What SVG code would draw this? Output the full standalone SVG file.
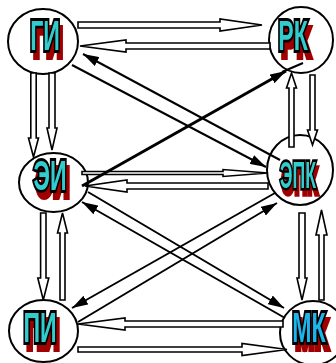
<svg xmlns="http://www.w3.org/2000/svg" width="336" height="363" viewBox="0 0 336 363">
  <defs>
    <marker id="head" viewBox="0 0 16 10" refX="16" refY="5" markerWidth="16" markerHeight="10" markerUnits="userSpaceOnUse" orient="auto">
      <path d="M0,0 L16,5 L0,10 Z" fill="#000"/>
    </marker>
    <!-- dark red block shadow cast down and to the right of each label -->
    <filter id="redShadow" x="-30%" y="-30%" width="170%" height="170%">
      <feOffset in="SourceAlpha" dx="5" dy="7" result="off"/>
      <feFlood flood-color="#a00000"/>
      <feComposite in2="off" operator="in" result="shadow"/>
      <feMerge>
        <feMergeNode in="shadow"/>
        <feMergeNode in="SourceGraphic"/>
      </feMerge>
    </filter>
  </defs>
  <style>
    .node { fill: #fff; stroke: #000; stroke-width: 2; }
    .lbl { font-family: "Liberation Sans", Arial, sans-serif; font-weight: bold; font-size: 42px; text-anchor: middle;
           fill: #33cccc; stroke: #000; stroke-width: 6; paint-order: stroke; stroke-linejoin: miter; filter: url(#redShadow); }
    .blue { fill: #1fb4ea; }
    .hollow { fill: #fff; stroke: #000; stroke-width: 1.6; stroke-linejoin: miter; }
    .line { fill: none; stroke: #000; stroke-width: 2; marker-end: url(#head); }
    .plain { fill: none; stroke: #000; stroke-width: 2; }
  </style>
  <rect width="336" height="363" fill="#fff"/>

  <!-- ellipses of the nodes are drawn first so the connectors sit on top -->
  <g id="node-gi">
    <ellipse class="node" cx="43" cy="41.5" rx="35" ry="32.5"/>
  </g>
  <g id="node-rk">
    <ellipse class="node" cx="301" cy="40" rx="32" ry="33"/>
  </g>
  <g id="node-ei">
    <ellipse class="node" cx="53.5" cy="182.5" rx="34.5" ry="29.5"/>
  </g>
  <g id="node-epk">
    <ellipse class="node" cx="300" cy="170" rx="33" ry="35"/>
  </g>
  <g id="node-pi">
    <ellipse class="node" cx="43.5" cy="331" rx="34.5" ry="31"/>
  </g>
  <g id="node-mk">
    <ellipse class="node" cx="313" cy="333" rx="33" ry="32"/>
  </g>

  <g id="connectors">
    <!-- hollow block arrows -->
    <polygon class="hollow" points="78,22 220,22 220,19 262,25 220,31 220,28 78,28"/>
    <polygon class="hollow" points="270,43 126,43 126,40 80,46 126,52 126,49 270,49"/>
    <polygon class="hollow" points="82,171.5 223,171.5 223,169.5 268,173 223,176.5 223,174.5 82,174.5"/>
    <polygon class="hollow" points="268,183 127,183 127,180 85,186 127,192 127,189 268,189"/>
    <polygon class="hollow" points="283,321 125,321 125,318 78,324 125,330 125,327 283,327"/>
    <polygon class="hollow" points="78,347 242,347 242,343.5 287,349.5 242,355.5 242,352 78,352"/>

    <polygon class="hollow" points="30.8,73 36.2,73 36.2,138 38.5,138 33.5,157 28.5,138 30.8,138"/>
    <polygon class="hollow" points="49,73 55,73 55,128 57,128 52,150 47,128 49,128"/>
    <polygon class="hollow" points="40.6,213 46,213 46,278 48.8,278 43.3,300 37.8,278 40.6,278"/>
    <polygon class="hollow" points="60,300 65,300 65,233 67.5,233 62.5,213 57.5,233 60,233"/>
    <polygon class="hollow" points="289,147 294,147 294,88 296.5,88 291.5,73 286.5,88 289,88"/>
    <polygon class="hollow" points="310,75 315,75 315,130 317.5,130 312.5,145 307.5,130 310,130"/>
    <polygon class="hollow" points="299,213 305,213 305,278 307,278 302,300 297,278 299,278"/>
    <polygon class="hollow" points="319,300 324,300 324,235 327,235 321.5,210 316,235 319,235"/>

    <!-- straight arrows with solid heads -->
    <line class="line" x1="82" y1="186" x2="286" y2="71" style="stroke-width:3"/>
    <line class="plain" x1="282" y1="72" x2="303" y2="63"/>
    <line class="line" x1="280" y1="160" x2="83" y2="54"/>
    <line class="line" x1="72" y1="65" x2="266" y2="167"/>
    <line class="line" x1="285" y1="318" x2="82" y2="202"/>
    <line class="line" x1="88" y1="192" x2="284" y2="308"/>
    <line class="line" x1="275" y1="193" x2="72" y2="308"/>
    <line class="line" x1="78" y1="322" x2="277" y2="203"/>
  </g>

  <!-- node labels -->
  <g id="label-gi">
    <text class="lbl" transform="translate(45,50) scale(0.55,1)">ГИ</text>
  </g>
  <g id="label-rk">
    <text class="lbl" transform="translate(293,50) scale(0.55,1)">РК</text>
  </g>
  <g id="label-ei">
    <text class="lbl" transform="translate(50,190) scale(0.55,1)">ЭИ</text>
  </g>
  <g id="label-epk">
    <text class="lbl" transform="translate(298,188) scale(0.42,0.9)">ЭПК</text>
  </g>
  <g id="label-pi">
    <text class="lbl" transform="translate(40,342) scale(0.55,1)">ПИ</text>
  </g>
  <g id="label-mk">
    <text class="lbl blue" transform="translate(309,342) scale(0.55,1)">МК</text>
  </g>
</svg>
